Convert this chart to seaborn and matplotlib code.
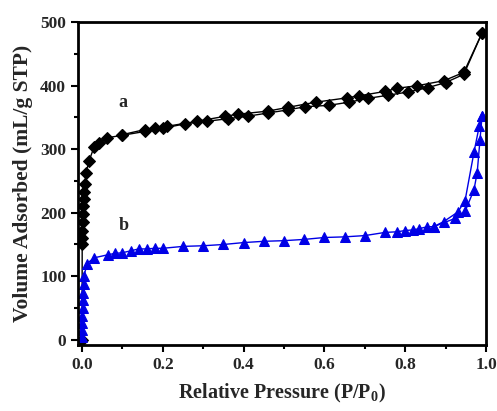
import matplotlib
matplotlib.use("Agg")
import matplotlib.pyplot as plt
import seaborn as sns
import pandas as pd
from matplotlib.ticker import MultipleLocator

# sample a: adsorption (lower) and desorption (upper) branches
a_ads_x = [0.0, 0.0003, 0.0006, 0.001, 0.0015, 0.002, 0.003, 0.004, 0.005, 0.007,
           0.01, 0.017, 0.03, 0.042, 0.062, 0.10, 0.156, 0.20, 0.255, 0.31, 0.36,
           0.41, 0.46, 0.51, 0.553, 0.61, 0.66, 0.707, 0.757, 0.806, 0.856, 0.90,
           0.945, 0.99]
a_ads_y = [0, 150, 160, 172, 185, 198, 210, 222, 232, 245,
           263, 281, 304, 310, 318, 322, 328, 333, 340, 344, 348,
           352, 357, 362, 367, 369, 374, 380, 385, 390, 397, 405,
           418, 483]
a_des_x = [0.99, 0.945, 0.896, 0.83, 0.78, 0.75, 0.685, 0.657, 0.578, 0.51,
           0.46, 0.385, 0.355, 0.285, 0.21, 0.18, 0.156, 0.10]
a_des_y = [483, 421, 408, 400, 396, 391, 384, 381, 374, 366,
           360, 355, 352, 344, 336, 334, 331, 323]

# sample b
b_ads_x = [0.0, 0.0003, 0.0006, 0.001, 0.0015, 0.002, 0.003, 0.004, 0.005, 0.012,
           0.03, 0.065, 0.082, 0.10, 0.12, 0.14, 0.16, 0.18, 0.20, 0.25, 0.30,
           0.35, 0.40, 0.45, 0.50, 0.55, 0.60, 0.65, 0.70, 0.75, 0.78, 0.80,
           0.82, 0.835, 0.855, 0.87, 0.923, 0.948, 0.97, 0.978, 0.985, 0.99]
b_ads_y = [5, 15, 27, 38, 50, 62, 74, 87, 100, 120,
           129, 134, 136, 137, 140, 143, 143, 144, 144, 147, 148,
           150, 153, 155, 156, 158, 161, 162, 164, 169, 170, 172,
           173, 175, 178, 178, 191, 202, 236, 263, 315, 352]
b_des_x = [0.99, 0.983, 0.97, 0.948, 0.93, 0.895, 0.87]
b_des_y = [352, 336, 295, 219, 201, 186, 178]


def main():
    sns.set_style("ticks")
    plt.rcParams["font.family"] = ["Liberation Serif", "DejaVu Serif"]
    plt.rcParams["font.weight"] = "bold"
    plt.rcParams["mathtext.fontset"] = "custom"
    plt.rcParams["mathtext.rm"] = "Liberation Serif:bold"

    fig = plt.figure(figsize=(4.97, 4.11), dpi=100)
    ax = fig.add_axes([0.157, 0.161, 0.821, 0.785])

    series = [
        (a_ads_x, a_ads_y, "D", "black", 6.5),
        (a_des_x, a_des_y, "D", "black", 6.5),
        (b_ads_x, b_ads_y, "^", "#0000e6", 7),
        (b_des_x, b_des_y, "^", "#0000e6", 7),
    ]
    for xs, ys, mk, col, ms in series:
        df = pd.DataFrame({"x": xs, "y": ys})
        sns.lineplot(data=df, x="x", y="y", sort=False, estimator=None,
                     marker=mk, markersize=ms, color=col, linewidth=1,
                     markeredgecolor=col, ax=ax)

    ax.text(0.09, 367, "a", fontsize=13, fontweight="bold")
    ax.text(0.09, 173, "b", fontsize=13, fontweight="bold")

    ax.set_xlim(-0.01, 1.0)
    ax.set_ylim(-8, 500)
    ax.xaxis.set_major_locator(MultipleLocator(0.2))
    ax.xaxis.set_minor_locator(MultipleLocator(0.1))
    ax.yaxis.set_major_locator(MultipleLocator(100))
    ax.yaxis.set_minor_locator(MultipleLocator(50))
    ax.tick_params(which="major", direction="out", length=5, width=1.5,
                   labelsize=12.5, color="black")
    ax.tick_params(which="minor", direction="out", length=3, width=1.5,
                   color="black")
    for lab in ax.get_xticklabels() + ax.get_yticklabels():
        lab.set_fontweight("bold")
    for sp in ax.spines.values():
        sp.set_linewidth(2)
        sp.set_color("black")

    ax.set_xlabel("Relative Pressure (P/P$_0$)", fontsize=14.5, fontweight="bold",
                  labelpad=7)
    ax.set_ylabel("Volume Adsorbed (mL/g STP)", fontsize=15.5, fontweight="bold",
                  labelpad=5)

    fig.savefig("out.png", dpi=100)


if __name__ == '__main__':
    main()
